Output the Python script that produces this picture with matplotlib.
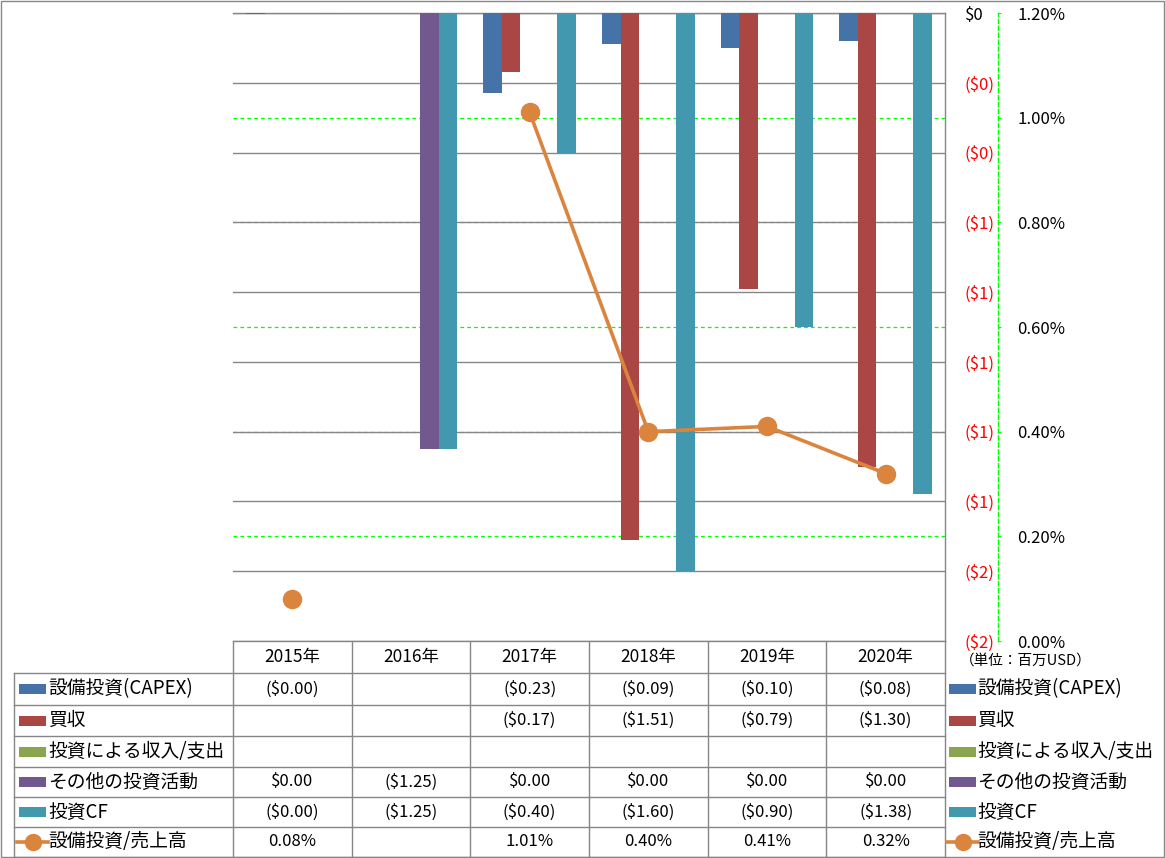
import numpy as np
import matplotlib.pyplot as plt
from matplotlib.transforms import blended_transform_factory
from matplotlib.patches import Rectangle
from matplotlib.lines import Line2D

plt.rcParams['font.family'] = ['Noto Sans CJK JP', 'DejaVu Sans']

# データ (単位: 百万USD)
years = ['2015年', '2016年', '2017年', '2018年', '2019年', '2020年']
series_names = ['設備投資(CAPEX)', '買収', '投資による収入/支出', 'その他の投資活動', '投資CF']
capex = [-0.004, None, -0.23, -0.09, -0.10, -0.08]
acquisition = [None, None, -0.17, -1.51, -0.79, -1.30]
invest_income = [None, None, None, None, None, None]
other_invest = [0.0, -1.25, 0.0, 0.0, 0.0, 0.0]
invest_cf = [-0.004, -1.25, -0.40, -1.60, -0.90, -1.38]
ratio_name = '設備投資/売上高'
capex_ratio = [0.08, None, 1.01, 0.40, 0.41, 0.32]

bar_series = [capex, acquisition, invest_income, other_invest, invest_cf]
colors = ['#4572A7', '#AA4643', '#89A54E', '#71588F', '#4198AF']
line_color = '#DB843D'
grid_gray = '#868686'
lime = '#00FF00'

W, H = 1165, 858
PL, PR, PT, PB = 233, 945, 13, 641
row_edges = [641, 673, 705, 736, 767, 797, 827, 857]


def to_arr(v):
    return np.array([np.nan if x is None else x for x in v], dtype=float)


def money(v):
    if v is None:
        return ''
    if v < 0:
        return '(${:.2f})'.format(abs(v))
    return '${:.2f}'.format(v)


def pct(v):
    return '' if v is None else '{:.2f}%'.format(v)


fig = plt.figure(figsize=(W / 100, H / 100), dpi=100)

# 表・凡例用の背景軸 (ピクセル座標)
tab = fig.add_axes([0, 0, 1, 1], zorder=-1)
tab.set_xlim(0, W)
tab.set_ylim(H, 0)
tab.axis('off')
tab.add_patch(Rectangle((0.5, 0.5), W - 1.5, H - 1.5, fill=False, ec='#888888', lw=1))

ax = fig.add_axes([PL / W, 1 - PB / H, (PR - PL) / W, (PB - PT) / H])
ax2 = ax.twinx()

n = len(years)
x = np.arange(n)
w = 0.156
for i, (vals, c) in enumerate(zip(bar_series, colors)):
    ax.bar(x + (i - 2) * w, to_arr(vals), w, color=c, zorder=3)

ax.set_xlim(-0.5, n - 0.5)
ax.set_ylim(-1.8, 0)
yt = np.round(np.arange(0, -1.81, -0.2), 2)
ylabels = ['$0' if abs(v) < 1e-9 else '(${:.0f})'.format(abs(v)) for v in yt]
ax.yaxis.tick_right()
ax.tick_params(axis='y', length=0, pad=14.4, labelsize=12)
ax.set_yticks(yt, labels=ylabels)
for lab, v in zip(ax.get_yticklabels(which='both'), yt):
    lab.set_color('black' if abs(v) < 1e-9 else '#FF0000')
ax.set_xticks([])
for v in yt:
    ax.axhline(v, color=grid_gray, lw=1, zorder=2)
ax.spines['left'].set_visible(False)
for s in ['right', 'bottom', 'top']:
    ax.spines[s].set_color(grid_gray)
    ax.spines[s].set_linewidth(1)

# 第2軸
ax2.set_ylim(0, 1.2)
st = np.round(np.arange(0, 1.21, 0.2), 2)
ax2.set_yticks(st)
ax2.yaxis.set_major_formatter(plt.FuncFormatter(lambda v, p: '{:.2f}%'.format(v)))
ax2.spines['right'].set_position(('outward', 38.2))
ax2.spines['right'].set_color(lime)
ax2.spines['right'].set_linestyle((0, (3, 2)))
ax2.spines['right'].set_linewidth(1)
for s in ['left', 'top', 'bottom']:
    ax2.spines[s].set_visible(False)
ax2.tick_params(axis='y', length=2.2, color=lime, pad=11.5, labelsize=12)
trans = blended_transform_factory(ax.transAxes, ax2.transData)
for v in st[1:-1]:
    ax.plot([0, 1], [v, v], transform=trans, color=lime, lw=0.9,
            ls=(0, (3, 2.5)), zorder=1)

ax2.plot(x, to_arr(capex_ratio), color=line_color, lw=2.6, marker='o', ms=13,
         zorder=5)

tab.text(960, 661, '（単位：百万USD）', fontsize=10.5, ha='left', va='center')

# データテーブル
gx = [PL + (PR - PL) * k / n for k in range(n + 1)]
for xx in gx:
    tab.plot([xx, xx], [PB, 857], color=grid_gray, lw=1)
tab.plot([14, 14], [row_edges[1], 857], color=grid_gray, lw=1)
for yy in row_edges[1:]:
    tab.plot([14, PR], [yy, yy], color=grid_gray, lw=1)

centers = [(a + b) / 2 for a, b in zip(gx[:-1], gx[1:])]
for cx, yr in zip(centers, years):
    tab.text(cx, (row_edges[0] + row_edges[1]) / 2, yr, fontsize=12.5,
             ha='center', va='center')

row_c = [(a + b) / 2 for a, b in zip(row_edges[1:-1], row_edges[2:])]
for r, vals in enumerate(bar_series):
    for cx, v in zip(centers, vals):
        tab.text(cx, row_c[r], money(v), fontsize=12, ha='center', va='center')
for cx, v in zip(centers, capex_ratio):
    tab.text(cx, row_c[5], pct(v), fontsize=12, ha='center', va='center')

# 凡例キー (表の左と右)
names = series_names + [ratio_name]
for kx, tx in [(19, 48), (949, 977)]:
    for r, name in enumerate(names):
        yc = row_c[r]
        if r < 5:
            tab.add_patch(Rectangle((kx, yc - 5), 27, 10, color=colors[r], lw=0))
        else:
            tab.add_line(Line2D([kx - 2, kx + 29], [yc, yc], color=line_color, lw=2.6))
            tab.add_line(Line2D([kx + 13.5], [yc], color=line_color, marker='o', ms=11.5))
        tab.text(tx, yc, name, fontsize=13.5, ha='left', va='center')

plt.savefig('out.png', dpi=100)
